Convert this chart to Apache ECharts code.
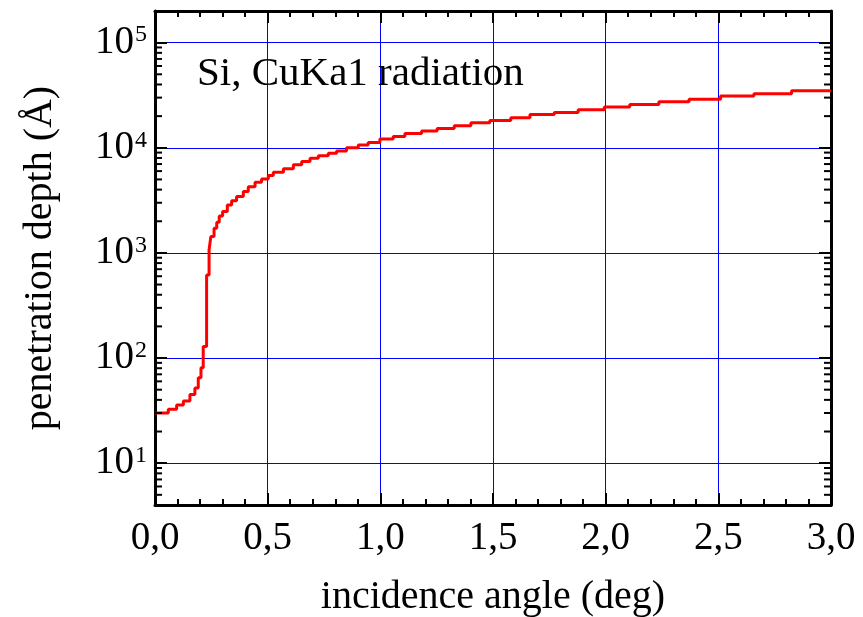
<!DOCTYPE html>
<html>
<head>
<meta charset="utf-8">
<script src="https://cdn.jsdelivr.net/npm/echarts@6/dist/echarts.min.js"></script>
<style>html,body{margin:0;padding:0;background:#fff}#c{width:863px;height:617px}</style>
</head>
<body>
<div id="c"></div>
<script>
// incidence angle (deg) at each step, and penetration depth (Å) after it
const angles = [0, 0.059, 0.096, 0.126, 0.155, 0.177, 0.192, 0.204, 0.214, 0.229, 0.240, 0.248, 0.262, 0.274, 0.285, 0.300, 0.321, 0.340, 0.362, 0.392, 0.414, 0.444, 0.473, 0.503, 0.525, 0.570, 0.614, 0.651, 0.688, 0.725, 0.769, 0.806, 0.850, 0.902, 0.946, 0.998, 1.057, 1.109, 1.183, 1.252, 1.328, 1.402, 1.486, 1.579, 1.664, 1.772, 1.878, 1.994, 2.107, 2.236, 2.370, 2.510, 2.658, 2.825, 3.0];
const depths = [30, 32.5, 35.7, 39, 45, 52, 65, 81, 129, 617, 1070, 1435, 1720, 1960, 2240, 2470, 2860, 3130, 3440, 3830, 4270, 4690, 5060, 5440, 5850, 6310, 6880, 7390, 7940, 8420, 8870, 9330, 10000, 10640, 11250, 12100, 12820, 13700, 14420, 15280, 16200, 17300, 18200, 19300, 20700, 21700, 23000, 24400, 25800, 27400, 29000, 31000, 32600, 34800, 34800];
const xMin = 0, xMax = 3, xInterval = 0.5;
const yMin = 4, yMax = 200000;
const annotation = 'Si, CuKa1 radiation';
const xTitle = 'incidence angle (deg)';
const yTitle = 'penetration depth (Å)';

const FF = "'Liberation Serif','Times New Roman',serif";
const lineData = angles.map((a, i) => [a, depths[i]]);
// logarithmic minor tick values (2..9 x 10^k) within the axis range
const minorY = [];
for (let k = 0; k <= 5; k++) for (let m = 2; m <= 9; m++) {
  const v = m * Math.pow(10, k);
  if (v > yMin && v < yMax) minorY.push([xMin, v]);
}
const black = {color: '#000', width: 3};
const chart = echarts.init(document.getElementById('c'));
chart.setOption({
  animation: false,
  grid: {left: 155, right: 32, top: 11, bottom: 112, containLabel: false, outerBoundsMode: 'none'},
  xAxis: [{
    type: 'value', min: xMin, max: xMax, interval: xInterval, position: 'bottom',
    axisLine: {show: true, onZero: false, lineStyle: black},
    axisTick: {show: true, inside: true, length: 12, lineStyle: {color: '#000', width: 2}},
    minorTick: {show: true, splitNumber: 5, length: 6, lineStyle: {color: '#000', width: 2}},
    splitLine: {show: true, lineStyle: {color: '#0000ff', width: 1}},
    axisLabel: {color: '#000', fontFamily: FF, fontSize: 39, margin: 14,
      formatter: v => v.toFixed(1).replace('.', ',')},
    name: xTitle, nameLocation: 'middle', nameGap: 72,
    nameTextStyle: {color: '#000', fontFamily: FF, fontSize: 40}
  }, {
    type: 'value', min: xMin, max: xMax, interval: xInterval, position: 'top',
    axisLine: {show: true, onZero: false, lineStyle: black},
    axisTick: {show: true, inside: true, length: 12, lineStyle: {color: '#000', width: 2}},
    minorTick: {show: true, splitNumber: 5, length: 6, lineStyle: {color: '#000', width: 2}},
    splitLine: {show: false}, axisLabel: {show: false}
  }],
  yAxis: [{
    type: 'log', logBase: 10, min: yMin, max: yMax, position: 'left',
    axisLine: {show: true, onZero: false, lineStyle: black},
    axisTick: {show: true, inside: true, length: 12, lineStyle: {color: '#000', width: 2}},
    minorTick: {show: false},
    splitLine: {show: true, lineStyle: {color: '#0000ff', width: 1}},
    axisLabel: {
      color: '#000', fontFamily: FF, margin: 8, showMinLabel: false, showMaxLabel: false,
      formatter: v => {
        const l = Math.log10(v), e = Math.round(l);
        if (Math.abs(l - e) > 1e-6) return '';
        return '{b|10}{s|' + e + '}';
      },
      rich: {
        b: {fontFamily: FF, fontSize: 39, color: '#000'},
        s: {fontFamily: FF, fontSize: 24, color: '#000', verticalAlign: 'top', padding: [0, 0, 0, 1]}
      }
    },
    name: yTitle, nameLocation: 'middle', nameGap: 95,
    nameTextStyle: {color: '#000', fontFamily: FF, fontSize: 40}
  }, {
    type: 'log', logBase: 10, min: yMin, max: yMax, position: 'right',
    axisLine: {show: true, onZero: false, lineStyle: black},
    axisTick: {show: true, inside: true, length: 12, lineStyle: {color: '#000', width: 2}},
    splitLine: {show: false}, axisLabel: {show: false}
  }],
  graphic: [{
    type: 'text', left: 197, top: 54, z: 100,
    style: {text: annotation, fontFamily: FF, fontSize: 41, fill: '#000'}
  }],
  series: [{
    type: 'line', data: lineData, step: 'end', showSymbol: false, z: 5,
    lineStyle: {color: '#ff0000', width: 3}
  }, {
    type: 'custom', data: minorY, clip: false, z: 6, silent: true,
    renderItem: (params, api) => {
      const v = api.value(1);
      const p0 = api.coord([xMin, v]);
      const p1 = api.coord([xMax, v]);
      return {type: 'group', children: [
        {type: 'line', shape: {x1: p0[0], y1: p0[1], x2: p0[0] + 7, y2: p0[1]}, style: {stroke: '#000', lineWidth: 2}},
        {type: 'line', shape: {x1: p1[0] - 7, y1: p1[1], x2: p1[0], y2: p1[1]}, style: {stroke: '#000', lineWidth: 2}}
      ]};
    }
  }]
});
</script>
</body>
</html>
